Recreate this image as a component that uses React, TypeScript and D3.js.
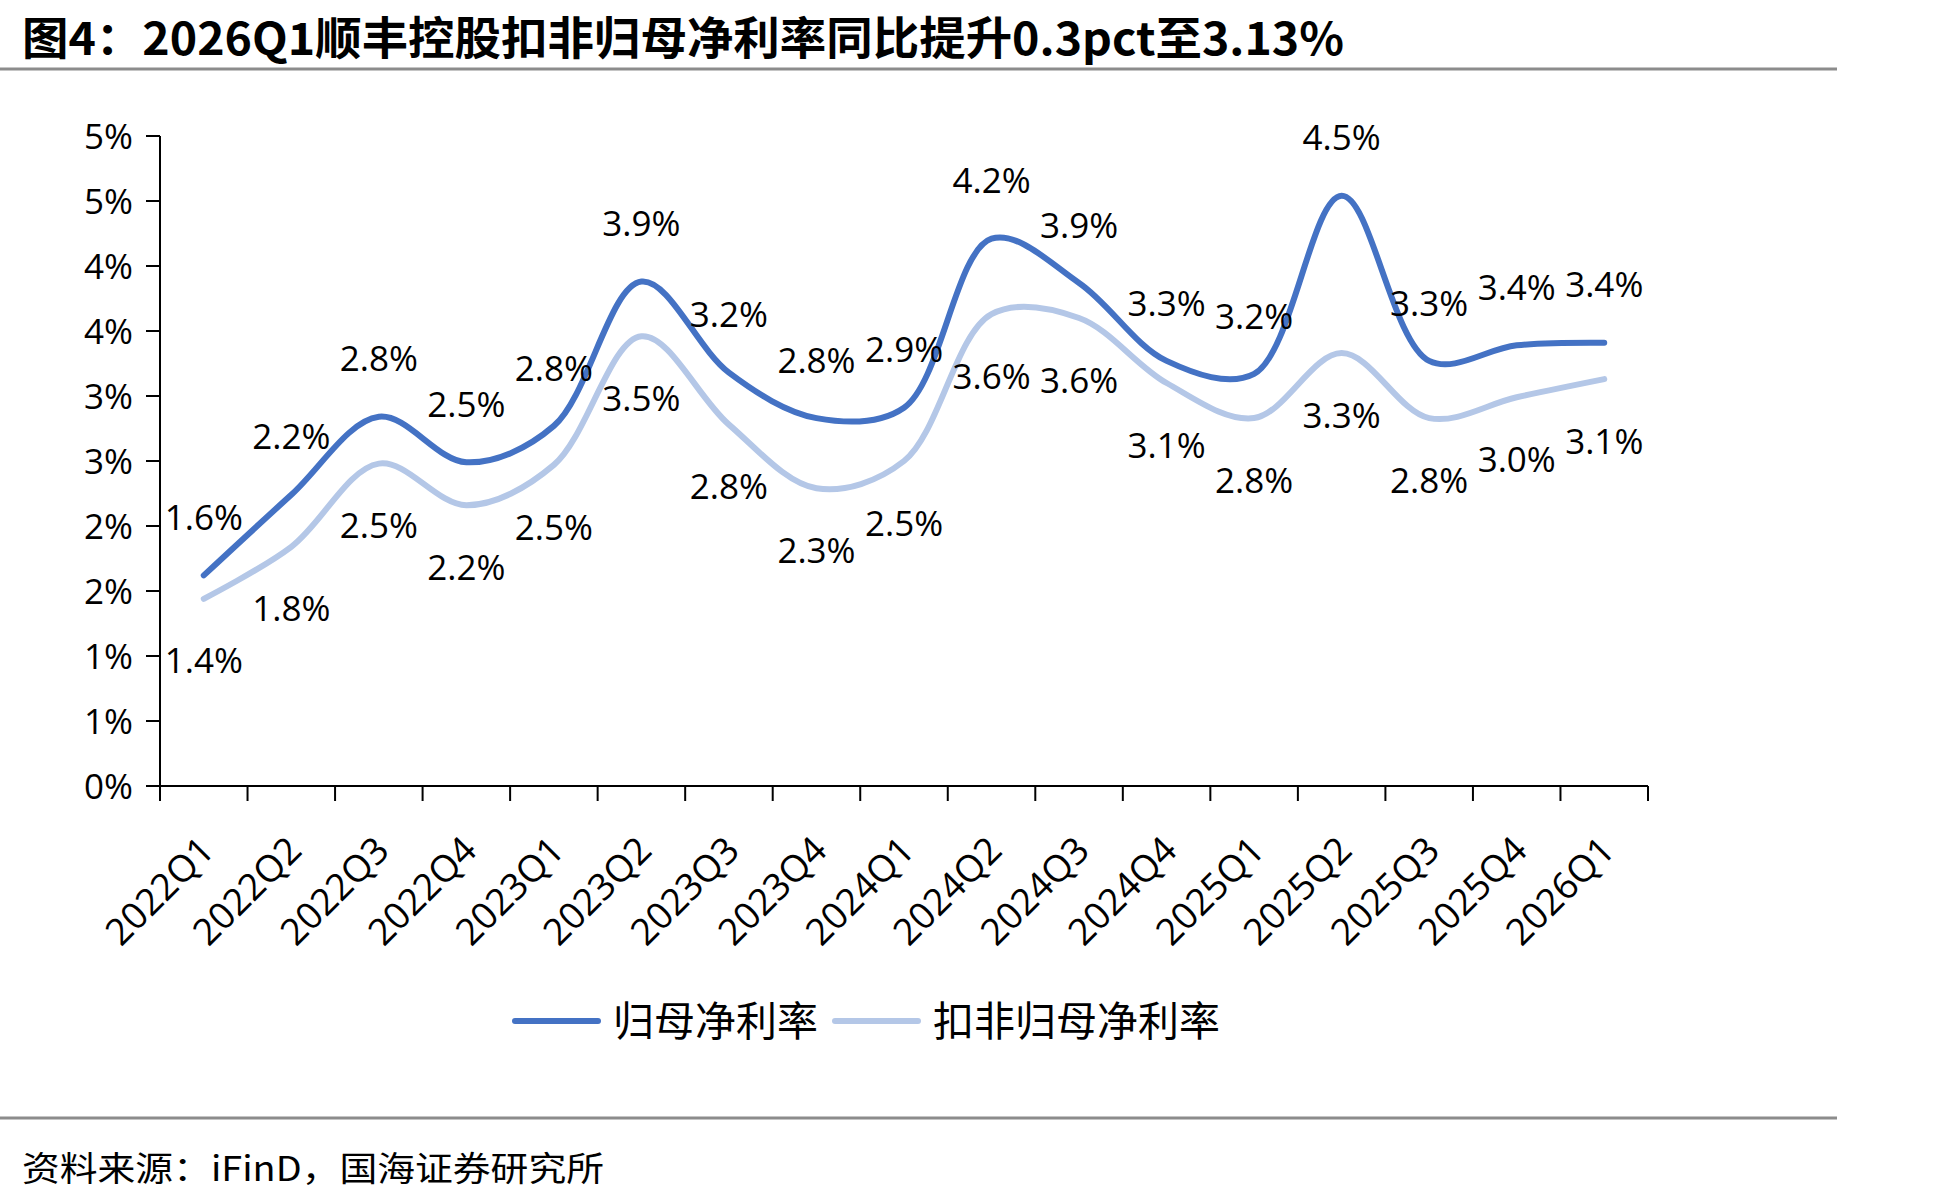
import React from "react";
import * as d3 from "d3";

// quarters on the x axis
const categories = [
  "2022Q1", "2022Q2", "2022Q3", "2022Q4",
  "2023Q1", "2023Q2", "2023Q3", "2023Q4",
  "2024Q1", "2024Q2", "2024Q3", "2024Q4",
  "2025Q1", "2025Q2", "2025Q3", "2025Q4",
  "2026Q1",
];

// 归母净利率 (%)
const netMargin = [
  1.62, 2.24, 2.84, 2.49, 2.77, 3.88, 3.18, 2.83, 2.91,
  4.21, 3.87, 3.27, 3.17, 4.54, 3.27, 3.39, 3.41,
];

// 扣非归母净利率 (%)
const deductedMargin = [
  1.44, 1.84, 2.48, 2.16, 2.47, 3.46, 2.78, 2.29, 2.5,
  3.63, 3.6, 3.1, 2.83, 3.33, 2.83, 2.99, 3.13,
];

const yTickValues = [0, 0.5, 1, 1.5, 2, 2.5, 3, 3.5, 4, 4.5, 5];
const yTickLabels = ["0%", "1%", "1%", "2%", "2%", "3%", "3%", "4%", "4%", "5%", "5%"];

const seriesNames = ["归母净利率", "扣非归母净利率"];
const seriesColors = ["#4472C4", "#B4C7E7"];

const W = 1933;
const H = 1201;
const LATIN = "'Open Sans', 'Noto Sans', sans-serif";
const CJK = "'Noto Sans CJK SC', sans-serif";

export default function App() {
  React.useEffect(() => {
    document.body.style.margin = "0";
  }, []);

  const x = d3.scaleBand().domain(categories).range([160, 1648]);
  const y = d3.scaleLinear().domain([0, 5]).range([786, 136]);
  const cx = (c) => x(c) + x.bandwidth() / 2;

  // excel-ish smoothing: centripetal catmull-rom keeps the short flat bits tight
  const line = d3
    .line()
    .x((d) => d[0])
    .y((d) => d[1])
    .curve(d3.curveCatmullRom.alpha(0.5));

  const pts = (vals) => vals.map((v, i) => [cx(categories[i]), y(v)]);

  const boundaries = categories.map((c) => x(c)).concat([x.range()[1]]);

  return (
    <svg width={W} height={H} style={{ display: "block", background: "#fff" }}>
      {/* title */}
      <text
        x={22}
        y={55}
        fontFamily={CJK}
        fontWeight="bold"
        fontSize={45}
        textLength={1322}
        lengthAdjust="spacingAndGlyphs"
        fill="#000"
      >
        图4：2026Q1顺丰控股扣非归母净利率同比提升0.3pct至3.13%
      </text>
      <line x1={0} x2={1837} y1={69} y2={69} stroke="#8c8c8c" strokeWidth={3} />

      {/* y axis */}
      <line x1={160} x2={160} y1={y(5)} y2={y(0)} stroke="#000" strokeWidth={2} />
      {yTickValues.map((v, i) => (
        <g key={"yt" + i}>
          <line x1={146} x2={160} y1={y(v)} y2={y(v)} stroke="#000" strokeWidth={2} />
          <text
            x={133}
            y={y(v)}
            dy="0.36em"
            textAnchor="end"
            fontFamily={LATIN}
            fontSize={35}
            fill="#000"
          >
            {yTickLabels[i]}
          </text>
        </g>
      ))}

      {/* x axis */}
      <line x1={160} x2={1648} y1={y(0)} y2={y(0)} stroke="#000" strokeWidth={2} />
      {boundaries.map((bx, i) => (
        <line key={"xt" + i} x1={bx} x2={bx} y1={y(0)} y2={y(0) + 15} stroke="#000" strokeWidth={2} />
      ))}
      {categories.map((c) => (
        <text
          key={c}
          transform={`translate(${cx(c) + 3},${y(0) + 57}) rotate(-45)`}
          textAnchor="end"
          dy="0.36em"
          fontFamily={LATIN}
          fontSize={37}
          fill="#000"
        >
          {c}
        </text>
      ))}

      {/* lines */}
      <path d={line(pts(deductedMargin))} fill="none" stroke={seriesColors[1]} strokeWidth={6} strokeLinecap="round" />
      <path d={line(pts(netMargin))} fill="none" stroke={seriesColors[0]} strokeWidth={6} strokeLinecap="round" />

      {/* data labels */}
      {netMargin.map((v, i) => (
        <text
          key={"n" + i}
          x={cx(categories[i])}
          y={y(v) - 58}
          dy="0.36em"
          textAnchor="middle"
          fontFamily={LATIN}
          fontSize={35}
          fill="#000"
        >
          {v.toFixed(1) + "%"}
        </text>
      ))}
      {deductedMargin.map((v, i) => (
        <text
          key={"d" + i}
          x={cx(categories[i])}
          y={y(v) + 62}
          dy="0.36em"
          textAnchor="middle"
          fontFamily={LATIN}
          fontSize={35}
          fill="#000"
        >
          {v.toFixed(1) + "%"}
        </text>
      ))}

      {/* legend */}
      {seriesNames.map((name, i) => {
        const lx = i === 0 ? 515 : 835;
        return (
          <g key={name}>
            <line x1={lx} x2={lx + 83} y1={1021} y2={1021} stroke={seriesColors[i]} strokeWidth={6} strokeLinecap="round" />
            <text x={lx + 98} y={1036} fontFamily={CJK} fontSize={41} fill="#000">
              {name}
            </text>
          </g>
        );
      })}

      {/* source */}
      <line x1={0} x2={1837} y1={1118} y2={1118} stroke="#8c8c8c" strokeWidth={3} />
      <text
        x={22}
        y={1181}
        fontFamily={CJK}
        fontSize={34}
        textLength={582}
        lengthAdjust="spacingAndGlyphs"
        fill="#000"
      >
        资料来源：iFinD，国海证券研究所
      </text>
    </svg>
  );
}
